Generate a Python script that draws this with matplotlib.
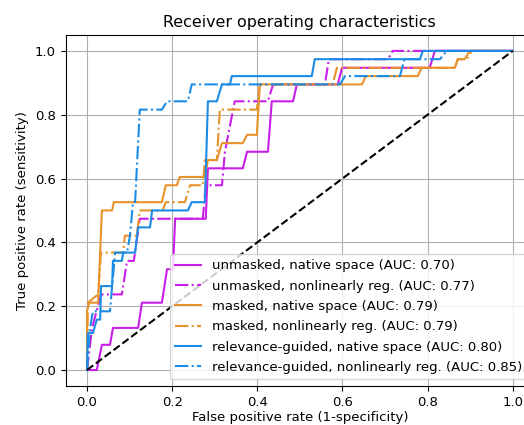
import matplotlib
matplotlib.use("Agg")
import matplotlib.pyplot as plt

plt.rcParams["font.size"] = 9.5

# ROC curves (fpr, tpr)
um_native_fpr = [0, 0.023, 0.035, 0.054, 0.061, 0.120, 0.129, 0.176, 0.188, 0.202, 0.207, 0.279, 0.284,
                 0.366, 0.376, 0.425, 0.434, 0.484, 0.493, 0.589, 0.599, 0.805, 0.817, 1.0]
um_native_tpr = [0, 0, 0.079, 0.079, 0.132, 0.132, 0.211, 0.211, 0.316, 0.316, 0.474, 0.474, 0.632,
                 0.632, 0.684, 0.684, 0.842, 0.842, 0.895, 0.895, 0.947, 0.947, 1.0, 1.0]

um_nonlin_fpr = [0, 0.012, 0.033, 0.082, 0.094, 0.110, 0.124, 0.272, 0.279, 0.317, 0.324, 0.347, 0.425,
                 0.437, 0.559, 0.568, 0.707, 0.718, 1.0]
um_nonlin_tpr = [0, 0.132, 0.237, 0.237, 0.342, 0.342, 0.474, 0.474, 0.579, 0.579, 0.684, 0.842, 0.842,
                 0.895, 0.895, 0.974, 0.974, 1.0, 1.0]

m_native_fpr = [0, 0, 0.005, 0.026, 0.035, 0.059, 0.063, 0.176, 0.185, 0.211, 0.218, 0.277, 0.284, 0.305,
                0.317, 0.366, 0.376, 0.399, 0.406, 0.646, 0.655, 0.777, 0.786, 0.864, 0.871, 0.887, 0.899, 1.0]
m_native_tpr = [0, 0.184, 0.211, 0.211, 0.5, 0.5, 0.526, 0.526, 0.579, 0.579, 0.605, 0.605, 0.658, 0.658,
                0.711, 0.711, 0.737, 0.737, 0.895, 0.895, 0.921, 0.921, 0.947, 0.947, 0.974, 0.974, 1.0, 1.0]

m_nonlin_fpr = [0, 0.002, 0.026, 0.033, 0.085, 0.089, 0.117, 0.124, 0.178, 0.185, 0.230, 0.242, 0.272,
                0.277, 0.305, 0.312, 0.399, 0.406, 0.577, 0.587, 0.864, 0.871, 0.892, 0.904, 1.0]
m_nonlin_tpr = [0, 0.211, 0.237, 0.368, 0.368, 0.421, 0.421, 0.5, 0.5, 0.526, 0.526, 0.579, 0.579,
                0.658, 0.658, 0.816, 0.816, 0.895, 0.895, 0.947, 0.947, 0.974, 0.974, 1.0, 1.0]

rg_native_fpr = [0, 0.002, 0.014, 0.023, 0.031, 0.033, 0.059, 0.061, 0.082, 0.085, 0.113, 0.120, 0.148,
                 0.153, 0.237, 0.246, 0.277, 0.284, 0.305, 0.317, 0.336, 0.340, 0.528, 0.535, 0.782, 0.789, 1.0]
rg_native_tpr = [0, 0.116, 0.116, 0.158, 0.158, 0.263, 0.263, 0.342, 0.342, 0.368, 0.368, 0.447, 0.447,
                 0.5, 0.5, 0.526, 0.526, 0.842, 0.842, 0.895, 0.895, 0.921, 0.921, 0.974, 0.974, 1.0, 1.0]

rg_nonlin_fpr = [0, 0.007, 0.014, 0.054, 0.059, 0.066, 0.094, 0.101, 0.108, 0.113, 0.124, 0.176, 0.188,
                 0.237, 0.246, 0.594, 0.606, 0.735, 0.746, 0.829, 0.845, 1.0]
rg_nonlin_tpr = [0, 0.132, 0.184, 0.184, 0.263, 0.368, 0.368, 0.421, 0.526, 0.526, 0.816, 0.816, 0.842,
                 0.842, 0.895, 0.895, 0.921, 0.921, 0.974, 0.974, 1.0, 1.0]

labels = ["unmasked, native space (AUC: 0.70)",
          "unmasked, nonlinearly reg. (AUC: 0.77)",
          "masked, native space (AUC: 0.79)",
          "masked, nonlinearly reg. (AUC: 0.79)",
          "relevance-guided, native space (AUC: 0.80)",
          "relevance-guided, nonlinearly reg. (AUC: 0.85)"]

c_mag = "#c81ee8"
c_org = "#e8922a"
c_blu = "#1a8ce6"

fig = plt.figure(figsize=(5.24, 4.25), dpi=100)
ax = fig.add_axes([0.1254, 0.0918, 0.8937, 0.826])

ax.plot(um_native_fpr, um_native_tpr, color=c_mag, ls="-", lw=1.5, label=labels[0])
ax.plot(um_nonlin_fpr, um_nonlin_tpr, color=c_mag, ls="-.", lw=1.5, label=labels[1])
ax.plot(m_native_fpr, m_native_tpr, color=c_org, ls="-", lw=1.5, label=labels[2])
ax.plot(m_nonlin_fpr, m_nonlin_tpr, color=c_org, ls="-.", lw=1.5, label=labels[3])
ax.plot(rg_native_fpr, rg_native_tpr, color=c_blu, ls="-", lw=1.5, label=labels[4])
ax.plot(rg_nonlin_fpr, rg_nonlin_tpr, color=c_blu, ls="-.", lw=1.5, label=labels[5])
ax.plot([0, 1], [0, 1], "k--", lw=1.5)

ax.set_xlim(-0.05, 1.05)
ax.set_ylim(-0.05, 1.05)
ax.set_xticks([0, 0.2, 0.4, 0.6, 0.8, 1.0])
ax.set_yticks([0, 0.2, 0.4, 0.6, 0.8, 1.0])
ax.grid(True)
ax.set_title("Receiver operating characteristics", fontsize=11.4)
ax.set_xlabel("False positive rate (1-specificity)", labelpad=2)
ax.set_ylabel("True positive rate (sensitivity)")
ax.legend(loc="lower right", fontsize=9.5, labelspacing=0.56)

fig.savefig("out.png", dpi=100)
